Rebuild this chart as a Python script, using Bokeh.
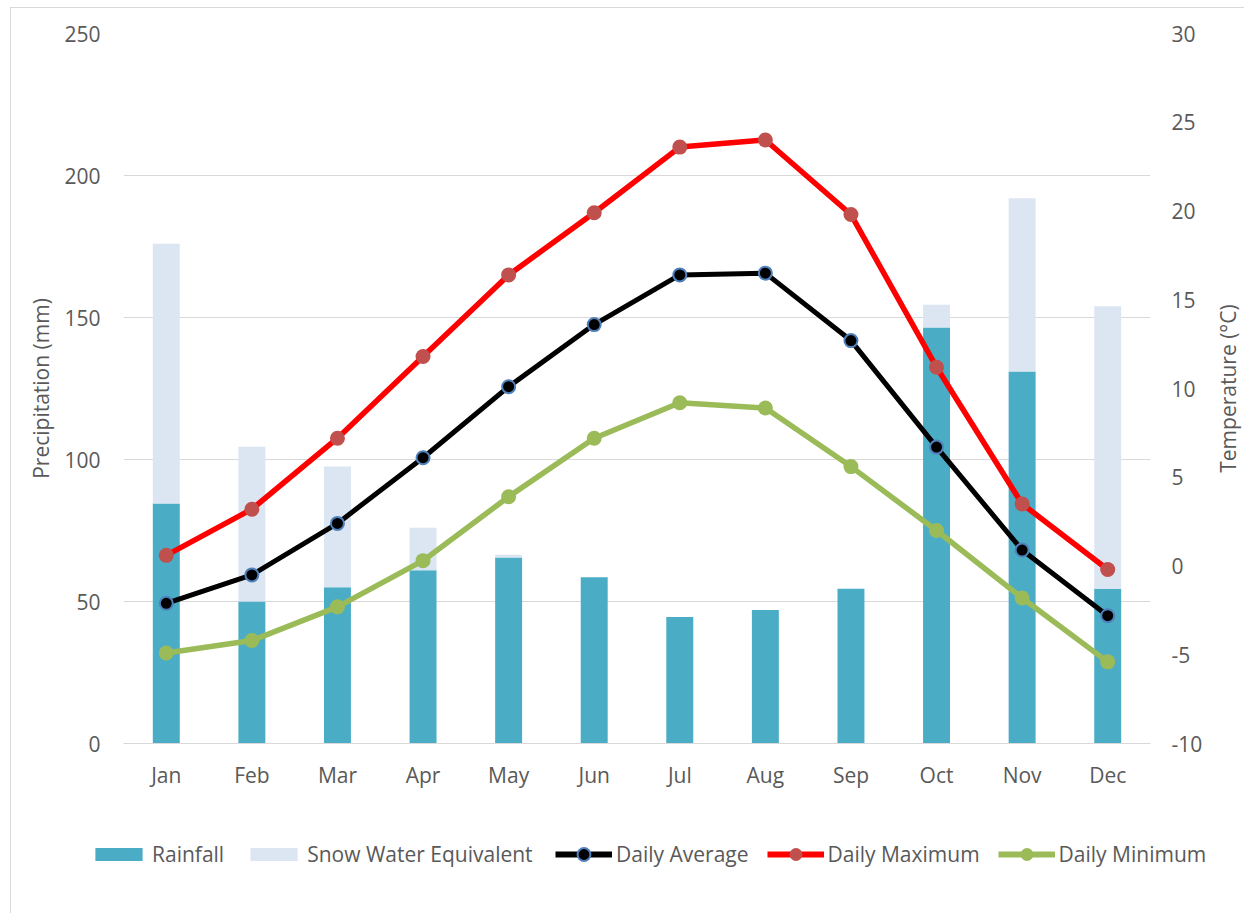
import math

from bokeh.core.properties import value
from bokeh.embed import file_html
from bokeh.layouts import column, row
from bokeh.models import (ColumnDataSource, CustomJSTickFormatter, FactorRange,
                          FixedTicker, Legend, LegendItem, LinearAxis, Range1d)
from bokeh.plotting import figure
from bokeh.resources import INLINE

# Monthly climate normals
months = ["Jan", "Feb", "Mar", "Apr", "May", "Jun",
          "Jul", "Aug", "Sep", "Oct", "Nov", "Dec"]
rainfall = [84.5, 50.0, 55.0, 61.0, 65.5, 58.5, 44.5, 47.0, 54.5, 146.5, 131.0, 54.5]
snow_water = [91.5, 54.5, 42.5, 15.0, 1.0, 0.0, 0.0, 0.0, 0.0, 8.0, 61.0, 99.5]
temp_avg = [-2.1, -0.5, 2.4, 6.1, 10.1, 13.6, 16.4, 16.5, 12.7, 6.7, 0.9, -2.8]
temp_max = [0.6, 3.2, 7.2, 11.8, 16.4, 19.9, 23.6, 24.0, 19.8, 11.2, 3.5, -0.2]
temp_min = [-4.9, -4.2, -2.3, 0.3, 3.9, 7.2, 9.2, 8.9, 5.6, 2.0, -1.8, -5.4]

precip_ticks = [0, 50, 100, 150, 200, 250]
temp_ticks = [-10, -5, 0, 5, 10, 15, 20, 25, 30]

FONT = "Open Sans"
TEXT = "#595959"
GRID = "#d9d9d9"
RAIN_C = "#4BACC6"
SNOW_C = "#DCE6F2"
AVG_EDGE = "#4F81BD"
MAX_LINE, MAX_PT = "#FF0000", "#C0504D"
MIN_C = "#9BBB59"

src = ColumnDataSource(dict(
    month=months, rain=rainfall, snow=snow_water,
    tavg=temp_avg, tmax=temp_max, tmin=temp_min,
))
temp_range = Range1d(temp_ticks[0], temp_ticks[-1])

# ---- main chart -------------------------------------------------------------
p = figure(
    x_range=FactorRange(*months),
    y_range=Range1d(precip_ticks[0], precip_ticks[-1]),
    width=1199, height=795,
    output_backend="svg", toolbar_location=None,
    min_border_left=112, min_border_right=60,
    min_border_top=25, min_border_bottom=60,
    outline_line_color=None,
)
p.extra_y_ranges = {"temp": temp_range}

bars = p.vbar_stack(["rain", "snow"], x="month", width=0.315, source=src,
                    color=[RAIN_C, SNOW_C], line_color=None)

l_avg = p.line("month", "tavg", source=src, y_range_name="temp",
               line_color="black", line_width=5)
m_avg = p.scatter("month", "tavg", source=src, y_range_name="temp", size=13,
                  fill_color="black", line_color=AVG_EDGE, line_width=2)
l_max = p.line("month", "tmax", source=src, y_range_name="temp",
               line_color=MAX_LINE, line_width=5.5)
m_max = p.scatter("month", "tmax", source=src, y_range_name="temp", size=15,
                  fill_color=MAX_PT, line_color=None)
l_min = p.line("month", "tmin", source=src, y_range_name="temp",
               line_color=MIN_C, line_width=5.5)
m_min = p.scatter("month", "tmin", source=src, y_range_name="temp", size=15,
                  fill_color=MIN_C, line_color=None)

p.xgrid.grid_line_color = None
p.ygrid.grid_line_color = GRID
p.ygrid.grid_line_width = 1.2
p.ygrid.ticker = FixedTicker(ticks=precip_ticks)

plain = CustomJSTickFormatter(code="return tick.toString();")


def style_axis(ax, standoff):
    ax.axis_line_color = None
    ax.major_tick_line_color = None
    ax.minor_tick_line_color = None
    ax.major_tick_out = 0
    ax.major_tick_in = 0
    ax.major_label_standoff = standoff
    ax.major_label_text_font = FONT
    ax.major_label_text_font_size = "21px"
    ax.major_label_text_color = TEXT
    ax.axis_label_text_font = FONT
    ax.axis_label_text_font_size = "21px"
    ax.axis_label_text_color = TEXT
    ax.axis_label_text_font_style = "normal"


style_axis(p.xaxis[0], 17)
p.xaxis[0].axis_line_color = GRID

style_axis(p.yaxis[0], 23)
p.yaxis[0].ticker = FixedTicker(ticks=precip_ticks)
p.yaxis[0].formatter = plain
p.yaxis[0].axis_label = "Precipitation (mm)"
p.yaxis[0].axis_label_standoff = 6

t_axis = LinearAxis(y_range_name="temp", ticker=FixedTicker(ticks=temp_ticks),
                    formatter=plain)
style_axis(t_axis, 21)
p.add_layout(t_axis, "right")

# ---- secondary axis title (reads bottom to top) ------------------------------
p_lab = figure(
    x_range=Range1d(-1, 1), y_range=temp_range,
    width=34, height=795,
    output_backend="svg", toolbar_location=None,
    x_axis_location=None, y_axis_location=None,
    min_border_left=0, min_border_right=0,
    min_border_top=25, min_border_bottom=60,
    outline_line_color=None,
)
p_lab.grid.visible = False
p_lab.text(x=[0], y=[(temp_ticks[0] + temp_ticks[-1]) / 2],
           text=["Temperature (°C)"], angle=math.pi / 2,
           text_align="center", text_baseline="middle",
           text_font=value(FONT), text_font_size="21px", text_color=TEXT)

# ---- legend strip -----------------------------------------------------------
# Proxy renderers: a single point that sits outside the strip's visible range,
# so only their legend swatches are drawn.
p_leg = figure(
    x_range=Range1d(0, 1), y_range=Range1d(0, 1),
    width=1233, height=110,
    output_backend="svg", toolbar_location=None,
    x_axis_location=None, y_axis_location=None,
    min_border=0, outline_line_color=None,
)
p_leg.grid.visible = False
proxy = ColumnDataSource(dict(x=[-5], y=[-5]))
k_rain = p_leg.vbar(x="x", top="y", width=1, source=proxy, color=RAIN_C, line_color=None)
k_snow = p_leg.vbar(x="x", top="y", width=1, source=proxy, color=SNOW_C, line_color=None)
k_avg_l = p_leg.line("x", "y", source=proxy, line_color="black", line_width=6)
k_avg_m = p_leg.scatter("x", "y", source=proxy, size=13, fill_color="black",
                        line_color=AVG_EDGE, line_width=2)
k_max_l = p_leg.line("x", "y", source=proxy, line_color=MAX_LINE, line_width=6)
k_max_m = p_leg.scatter("x", "y", source=proxy, size=15, fill_color=MAX_PT, line_color=None)
k_min_l = p_leg.line("x", "y", source=proxy, line_color=MIN_C, line_width=6)
k_min_m = p_leg.scatter("x", "y", source=proxy, size=15, fill_color=MIN_C, line_color=None)

legend_style = dict(
    orientation="horizontal", label_standoff=4,
    padding=0, margin=0,
    border_line_color=None, background_fill_alpha=0,
    label_text_font=FONT, label_text_font_size="21px", label_text_color=TEXT,
)

# bar swatches: flat boxes
bar_legend = Legend(
    items=[
        LegendItem(label="Rainfall", renderers=[k_rain]),
        LegendItem(label="Snow Water Equivalent", renderers=[k_snow]),
    ],
    location=(78, 45), glyph_width=59, glyph_height=16, spacing=20,
    **legend_style,
)
# line swatches: taller glyph box so the markers read at full size
line_legend = Legend(
    items=[
        LegendItem(label="Daily Average", renderers=[k_avg_l, k_avg_m]),
        LegendItem(label="Daily Maximum", renderers=[k_max_l, k_max_m]),
        LegendItem(label="Daily Minimum", renderers=[k_min_l, k_min_m]),
    ],
    location=(544, 43), glyph_width=57, glyph_height=32, spacing=18,
    **legend_style,
)
p_leg.add_layout(bar_legend)
p_leg.add_layout(line_legend)

layout = column(
    row(p, p_lab, spacing=0),
    p_leg,
    spacing=0,
    margin=(7, 0, 0, 10),
    styles={"border-left": "1px solid #d9d9d9", "border-top": "1px solid #d9d9d9"},
)

open("out.html", "w").write(file_html(layout, INLINE))
